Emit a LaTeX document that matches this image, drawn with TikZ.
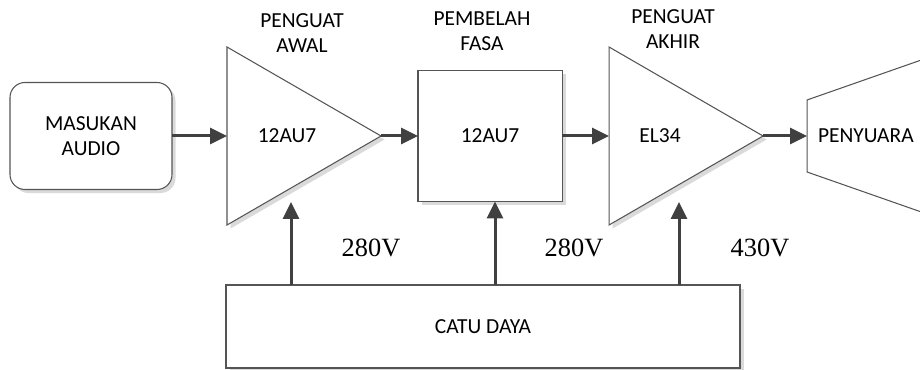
\documentclass[tikz,border=0pt]{standalone}
\usepackage{fontspec}
\setmainfont{Liberation Serif}
\setsansfont{Carlito}
\usepackage{tikz}
\usetikzlibrary{shapes.geometric, arrows.meta, positioning, calc, shadows}
\definecolor{mydark}{RGB}{64,64,64}
\definecolor{myline}{RGB}{85,85,85}
\definecolor{myshadow}{RGB}{218,218,218}
\tikzset{
  softshadow/.style={general shadow={fill=myshadow, shadow xshift=2pt, shadow yshift=-2pt}},
  block/.style={rectangle, draw=myline, fill=white, line width=0.6pt,
    align=center, font=\sffamily\fontsize{12.2}{14.2}\selectfont,
    outer sep=0pt, softshadow},
  amp/.style={isosceles triangle, isosceles triangle stretches,
    shape border rotate=0, draw=myline, fill=white, line width=0.6pt,
    minimum width=3.56cm, minimum height=3.08cm, inner sep=0pt,
    outer sep=0pt, softshadow},
  lbl/.style={align=center, font=\sffamily\fontsize{12.2}{14.2}\selectfont},
  volt/.style={font=\fontsize{15}{18}\selectfont},
  arrow/.style={-{Triangle[length=0.34cm, width=0.32cm]}, line width=1.7pt, color=mydark}
}

\begin{document}
\begin{tikzpicture}
  \clip (0,0) rectangle (18.4,7.4);

  % --- signal path ---
  \node[block, rounded corners=0.3cm, minimum width=3.24cm, minimum height=2.14cm] (input) at (1.82,4.68) {MASUKAN\\AUDIO};
  \node[amp, right=1.1cm of input] (pre) {};
  \node[lbl] (preT) at ($(pre.west)+(1.2,0)$) {12AU7};
  \node[block, minimum width=2.88cm, minimum height=2.62cm, right=0.74cm of pre] (split) {12AU7};
  \node[amp, right=0.94cm of split] (power) {};
  \node[lbl] (powerT) at ($(power.west)+(1.02,0)$) {EL34};
  \node[lbl, minimum height=1.44cm, inner xsep=0.22cm, inner ysep=0pt, outer sep=0pt, right=0.88cm of power] (spk) {PENYUARA};
  \draw[myline, line width=0.6pt] ($(spk.north west)+(2.6,0.91)$) -- (spk.north west)
    -- (spk.south west) -- ($(spk.south west)+(2.6,-0.91)$);

  \draw[arrow] (input.east) -- (pre.west);
  \draw[arrow] (pre.east) -- (split.west);
  \draw[arrow] (split.east) -- (power.west);
  \draw[arrow] (power.east) -- (spk.west);

  % --- stage titles ---
  \node[lbl] (preL) at (6.04,6.73) {PENGUAT\\AWAL};
  \node[lbl] (splitL) at (9.64,6.77) {PEMBELAH\\FASA};
  \node[lbl] (powerL) at (13.46,6.81) {PENGUAT\\AKHIR};

  % --- supply ---
  \node[block, minimum width=10.28cm, minimum height=1.66cm] (psu) at (9.66,0.87) {CATU DAYA};
  \coordinate (feedA) at ($(pre.west)+(1.28,-1.32)$);
  \coordinate (feedB) at ($(split.south)+(0.1,0)$);
  \coordinate (feedC) at ($(power.west)+(1.4,-1.32)$);
  \draw[arrow] (psu.north -| feedA) -- (feedA);
  \draw[arrow] (psu.north -| feedB) -- (feedB);
  \draw[arrow] (psu.north -| feedC) -- (feedC);

  \node[volt] (vA) at (7.42,2.44) {280V};
  \node[volt] (vB) at (11.48,2.44) {280V};
  \node[volt] (vC) at (15.2,2.44) {430V};
\end{tikzpicture}
\end{document}
